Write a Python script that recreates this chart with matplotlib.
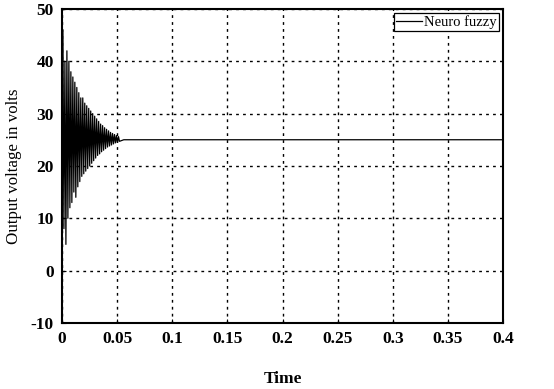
import numpy as np
import matplotlib
matplotlib.use("Agg")
import matplotlib.pyplot as plt

peak_t = [0,
          0.0008, 0.0017, 0.0026, 0.0035, 0.0044, 0.0053, 0.0062, 0.0071, 0.008, 0.0089,
          0.0098, 0.0107, 0.0116, 0.0125, 0.0134, 0.0143, 0.0152, 0.0161, 0.017, 0.0179,
          0.0188, 0.0197, 0.0206, 0.0215, 0.0224, 0.0233, 0.0242, 0.0251, 0.026, 0.0269,
          0.0278, 0.0287, 0.0296, 0.0305, 0.0314, 0.0323, 0.0332, 0.0341, 0.035, 0.0359,
          0.0368, 0.0377, 0.0386, 0.0395, 0.0404, 0.0413, 0.0422, 0.0431, 0.044, 0.0449,
          0.0458, 0.0467, 0.0476, 0.0485, 0.0494, 0.0503, 0.0512, 0.0521,
          0.056, 0.4]
peak_v = [0,
          46, 8, 40, 5, 42, 10, 40, 12, 38, 13,
          37, 15, 36, 14, 35, 16, 34, 17, 33, 18,
          33, 18.5, 32, 19, 31.5, 19.5, 31, 20, 30.5, 20.5,
          30, 21, 29.5, 21.5, 29, 22, 28.5, 22.3, 28, 22.7,
          27.7, 23, 27.3, 23.3, 27, 23.6, 26.7, 23.8, 26.4, 24,
          26.2, 24.2, 26, 24.4, 25.8, 24.5, 25.6, 24.7,
          25, 25]

x_ticks = [0, 0.05, 0.1, 0.15, 0.2, 0.25, 0.3, 0.35, 0.4]
x_labels = ['0', '0.05', '0.1', '0.15', '0.2', '0.25', '0.3', '0.35', '0.4']
y_ticks = [-10, 0, 10, 20, 30, 40, 50]

plt.rcParams['font.family'] = ['Liberation Serif', 'DejaVu Serif']
plt.rcParams['axes.unicode_minus'] = False

fig = plt.figure(figsize=(5.54, 3.89), dpi=100)
ax = fig.add_axes([0.112, 0.170, 0.796, 0.807])

ax.plot(peak_t, peak_v, color='black', lw=0.9, label='Neuro fuzzy')

ax.set_xlim(0, 0.4)
ax.set_ylim(-10, 50)
ax.set_xticks(x_ticks)
ax.set_xticklabels(x_labels)
ax.set_yticks(y_ticks)
ax.grid(True, color='black', linestyle=(0, (2, 3)), lw=1.0)
ax.tick_params(direction='in', length=3, labelsize=12.5, pad=6)
for lab in ax.get_xticklabels() + ax.get_yticklabels():
    lab.set_fontweight('bold')
for s in ax.spines.values():
    s.set_linewidth(1.5)

ax.set_xlabel('Time', fontsize=12.5, fontweight='bold', labelpad=17)
ax.set_ylabel('Output voltage in volts', fontsize=12.2, labelpad=6)

leg = ax.legend(loc='upper right', fontsize=10.5, handlelength=1.8,
                handletextpad=0.1, borderpad=0.15, borderaxespad=0.3,
                fancybox=False, framealpha=1)
leg.get_frame().set_edgecolor('black')
leg.get_frame().set_linewidth(0.9)

fig.savefig('out.png', dpi=100)
